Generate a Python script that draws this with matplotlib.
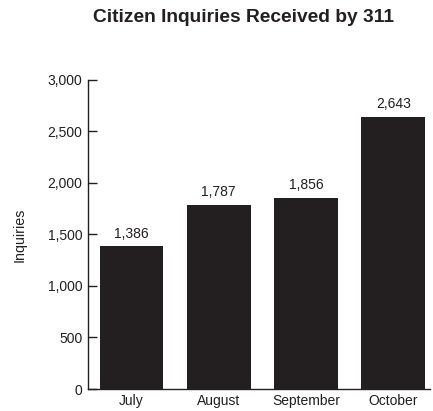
import matplotlib
matplotlib.use("Agg")
import matplotlib.pyplot as plt
from matplotlib.ticker import FuncFormatter

months = ["July", "August", "September", "October"]
inquiries = [1386, 1787, 1856, 2643]
yticks = [0, 500, 1000, 1500, 2000, 2500, 3000]

plt.rcParams['font.family'] = ['Liberation Sans', 'DejaVu Sans']
fig = plt.figure(figsize=(4.33, 4.11), dpi=100)
ax = fig.add_axes([0.203, 0.0535, 0.79, 0.752])
x = list(range(len(months)))
bars = ax.bar(x, inquiries, width=0.73, color="#231f20")
for xi, v in zip(x, inquiries):
    ax.annotate(f"{v:,}", (xi, v), xytext=(0, 4), textcoords="offset points",
                ha="center", va="bottom", fontsize=10, color="#231f20")
ax.set_xlim(-0.5, 3.42)
ax.set_ylim(0, 3000)
ax.set_yticks(yticks)
ax.yaxis.set_major_formatter(FuncFormatter(lambda v, p: f"{int(v):,}"))
ax.set_xticks(x)
ax.set_xticklabels(months)
ax.tick_params(axis="y", direction="in", length=6.5, width=1, labelsize=10, colors="#231f20", pad=4)
ax.tick_params(axis="x", length=0, labelsize=10, colors="#231f20", pad=3.5)
for s in ["top", "right"]:
    ax.spines[s].set_visible(False)
for s in ["left", "bottom"]:
    ax.spines[s].set_color("#231f20")
    ax.spines[s].set_linewidth(1)
ax.set_ylabel("Inquiries", fontsize=10.3, color="#231f20", labelpad=15)
fig.text(0.5635, 0.958, "Citizen Inquiries Received by 311", ha="center", va="center",
         fontsize=13.8, fontweight="bold", color="#231f20")
fig.savefig("out.png", dpi=100)
